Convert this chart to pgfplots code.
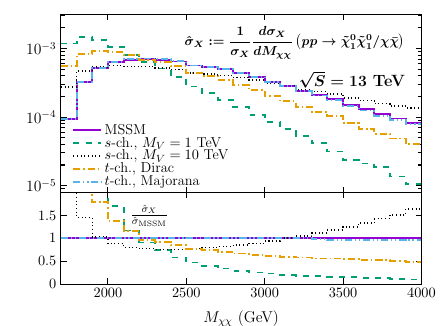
\documentclass[border=0pt]{standalone}
\usepackage{pgfplots}
\pgfplotsset{compat=1.18}
\usepackage{amsmath}

\definecolor{mssm}{RGB}{148,0,211}
\definecolor{sgreen}{RGB}{0,158,115}
\definecolor{dorange}{RGB}{230,159,0}
\definecolor{mblue}{RGB}{86,180,233}

\newsavebox\titlebox
\newsavebox\energybox

\pgfplotsset{
  every axis/.append style={scale only axis, width=276pt, xmin=1700, xmax=4000,
    xtick={2000,2500,3000,3500,4000}, tick style={black, thick}, axis line style={thick},
    /pgf/number format/1000 sep={},
    xticklabel style={font=\fontsize{10.5}{12}\selectfont}},
  mssmstyle/.style={const plot, mssm, line width=1.4pt},
  s1style/.style={const plot, sgreen, line width=1.4pt, dash pattern=on 4.5pt off 5pt},
  s10style/.style={const plot, black, line width=1.1pt, dash pattern=on 0.8pt off 2pt},
  dirstyle/.style={const plot, dorange, line width=1.4pt, dash pattern=on 5.5pt off 2.2pt on 1.1pt off 2.2pt},
  majstyle/.style={const plot, mblue, line width=1.4pt, dash pattern=on 5.5pt off 2pt on 1.1pt off 2pt on 1.1pt off 2pt},
}

\begin{document}
\sbox\titlebox{\fontsize{10}{12}\selectfont\boldmath$\displaystyle \hat\sigma_X := \frac{1}{\sigma_X}\frac{d\sigma_X}{dM_{\chi\chi}}
   \left(pp\to\tilde\chi_1^0\tilde\chi_1^0/\chi\bar\chi\right)$}
\sbox\energybox{\fontsize{12.5}{15}\selectfont\bfseries\boldmath$\sqrt{S} = 13$ TeV}
\begin{tikzpicture}
\begin{axis}[
    name=top, height=136.5pt,
    ymode=log, ymin=7.9e-6, ymax=3.16e-3,
    xticklabels={},
    yticklabel style={font=\fontsize{12}{14}\selectfont},
    legend style={draw=none, fill=none, at={(0.02,0.415)}, anchor=north west,
      row sep=-3.3pt, font=\fontsize{11}{13}\selectfont},
    legend cell align=left,
    legend image code/.code={\draw[#1] plot coordinates {(0cm,0cm) (0.75cm,0cm)};},
]
\addplot[mssmstyle] coordinates {
 (1700,9.3e-5) (1800,3.27e-4) (1900,5.23e-4) (2000,6.37e-4) (2100,6.9e-4) (2200,7.08e-4)
 (2300,6.9e-4) (2400,6.5e-4) (2500,5.66e-4) (2600,5.35e-4) (2700,4.97e-4) (2800,4.44e-4)
 (2900,3.89e-4) (3000,3.27e-4) (3100,2.86e-4) (3200,2.43e-4) (3300,2.11e-4) (3400,1.85e-4)
 (3500,1.52e-4) (3600,1.30e-4) (3700,1.10e-4) (3800,9.57e-5) (3900,8.3e-5) (4000,8.3e-5)};
\addlegendentry{MSSM}
\addplot[s1style] coordinates {
 (1700,1.19e-3) (1800,1.48e-3) (1900,1.33e-3) (2000,1.07e-3) (2100,8.13e-4) (2200,6.37e-4)
 (2300,5.13e-4) (2400,3.89e-4) (2500,2.8e-4) (2600,2.25e-4) (2700,1.8e-4) (2800,1.4e-4)
 (2900,1.08e-4) (3000,8.5e-5) (3100,6.7e-5) (3200,5.3e-5) (3300,4.2e-5) (3400,3.15e-5)
 (3500,2.35e-5) (3600,2.1e-5) (3700,1.85e-5) (3800,1.36e-5) (3900,1.05e-5) (4000,1.05e-5)};
\addlegendentry{$s$-ch., $M_V = 1$ TeV}
\addplot[s10style] coordinates {
 (1700,2.77e-4) (1800,4.74e-4) (1900,5.4e-4) (2000,5.64e-4) (2100,5.52e-4) (2200,5.49e-4)
 (2300,5.24e-4) (2400,4.94e-4) (2500,4.39e-4) (2600,4.28e-4) (2700,4.08e-4) (2800,3.80e-4)
 (2900,3.46e-4) (3000,3.07e-4) (3100,2.89e-4) (3200,2.55e-4) (3300,2.36e-4) (3400,2.18e-4)
 (3500,1.90e-4) (3600,1.74e-4) (3700,1.57e-4) (3800,1.45e-4) (3900,1.35e-4) (4000,1.35e-4)};
\addlegendentry{$s$-ch., $M_V = 10$ TeV}
\addplot[dirstyle] coordinates {
 (1700,5.53e-4) (1800,8.3e-4) (1900,9.2e-4) (2000,8.8e-4) (2100,8.0e-4) (2200,6.8e-4)
 (2300,6.35e-4) (2400,5.56e-4) (2500,4.39e-4) (2600,3.96e-4) (2700,3.48e-4) (2800,2.96e-4)
 (2900,2.49e-4) (3000,2.02e-4) (3100,1.70e-4) (3200,1.41e-4) (3300,1.18e-4) (3400,1.04e-4)
 (3500,8.2e-5) (3600,6.76e-5) (3700,5.72e-5) (3800,4.88e-5) (3900,4.07e-5) (4000,4.07e-5)};
\addlegendentry{$t$-ch., Dirac}
\addplot[majstyle] coordinates {
 (1700,9.4e-5) (1800,3.30e-4) (1900,5.28e-4) (2000,6.43e-4) (2100,6.97e-4) (2200,7.15e-4)
 (2300,6.97e-4) (2400,6.56e-4) (2500,5.66e-4) (2600,5.35e-4) (2700,4.97e-4) (2800,4.44e-4)
 (2900,3.89e-4) (3000,3.27e-4) (3100,2.83e-4) (3200,2.38e-4) (3300,2.07e-4) (3400,1.78e-4)
 (3500,1.46e-4) (3600,1.25e-4) (3700,1.05e-4) (3800,9.2e-5) (3900,7.9e-5) (4000,7.9e-5)};
\addlegendentry{$t$-ch., Majorana}
\node[anchor=east] at (rel axis cs:0.967,0.84) {\usebox\titlebox};
\node[anchor=east] at (rel axis cs:0.967,0.635) {\usebox\energybox};
\end{axis}

\begin{axis}[
    name=bot, at={(top.south west)}, anchor=north west, height=70pt,
    ymin=0, ymax=2, ytick={0,0.5,1,1.5},
    yticklabel style={font=\fontsize{11}{13}\selectfont},
    xlabel={$M_{\chi\chi}$ (GeV)},
    xlabel style={font=\large, yshift=-3pt},
]
\addplot[mssmstyle] coordinates {(1700,1) (4000,1)};
\addplot[s1style] coordinates {
 (1700,12.8) (1800,4.5) (1900,2.54) (2000,1.70) (2100,1.17) (2200,0.91) (2300,0.74)
 (2400,0.58) (2500,0.47) (2600,0.40) (2700,0.34) (2800,0.29) (2900,0.254) (3000,0.23)
 (3100,0.20) (3200,0.18) (3300,0.175) (3400,0.16) (3500,0.146) (3600,0.13) (3700,0.124)
 (3800,0.115) (3900,0.10) (4000,0.10)};
\addplot[s10style] coordinates {
 (1700,3.0) (1800,1.45) (1900,1.03) (2000,0.885) (2100,0.80) (2200,0.776) (2300,0.76)
 (2400,0.76) (2500,0.776) (2600,0.80) (2700,0.82) (2800,0.856) (2900,0.89) (3000,0.94)
 (3100,1.01) (3200,1.05) (3300,1.12) (3400,1.18) (3500,1.25) (3600,1.34) (3700,1.43)
 (3800,1.51) (3900,1.64) (4000,1.64)};
\addplot[dirstyle] coordinates {
 (1700,5.9) (1800,2.5) (1900,1.80) (2000,1.38) (2100,1.16) (2200,0.96) (2300,0.92)
 (2400,0.85) (2500,0.776) (2600,0.74) (2700,0.70) (2800,0.667) (2900,0.64) (3000,0.617)
 (3100,0.595) (3200,0.58) (3300,0.56) (3400,0.56) (3500,0.54) (3600,0.52) (3700,0.52)
 (3800,0.51) (3900,0.49) (4000,0.49)};
\addplot[majstyle] coordinates {
 (1700,1.01) (1800,1.01) (1900,1.01) (2000,1.01) (2100,1.01) (2200,1.01) (2300,1.01)
 (2400,1.01) (2500,1.0) (2600,1.0) (2700,1.0) (2800,1.0) (2900,1.0) (3000,1.0)
 (3100,1.0) (3200,1.0) (3300,0.98) (3400,0.96) (3500,0.96) (3600,0.96) (3700,0.96)
 (3800,0.96) (3900,0.96) (4000,0.96)};
\node at (rel axis cs:0.245,0.75) {\large$\frac{\hat\sigma_X}{\hat\sigma_{\mathrm{MSSM}}}$};
\end{axis}
\pgfresetboundingbox
\path[use as bounding box] ([shift={(-40pt,11pt)}]top.north west)
  rectangle ([shift={(15.75pt,-32pt)}]bot.south east);
\end{tikzpicture}
\end{document}
